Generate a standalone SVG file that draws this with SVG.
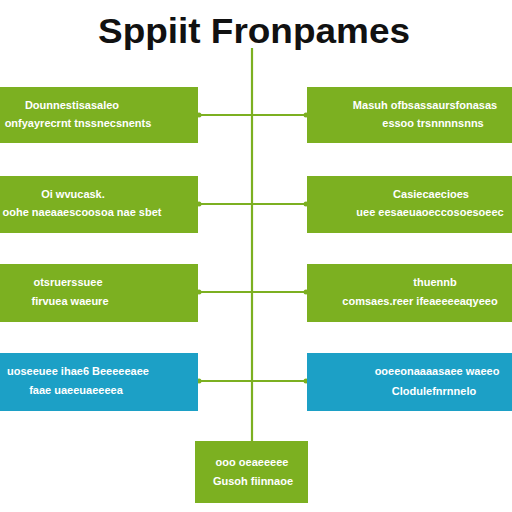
<svg xmlns="http://www.w3.org/2000/svg" width="512" height="512" viewBox="0 0 512 512">
<style>
.g{fill:#7cb021}
.b{fill:#1ca0c6}
.t{fill:#fff;font-family:"Liberation Sans",Arial,sans-serif;font-weight:bold;font-size:11px;text-anchor:middle}
.c{stroke:#7cb021;stroke-width:2.2;fill:none}
.d{fill:#7cb021}
</style>
<rect width="512" height="512" fill="#fff"/>
<text x="254" y="43" font-family="Liberation Sans,Arial,sans-serif" font-size="35" font-weight="bold" text-anchor="middle" fill="#111" textLength="312" lengthAdjust="spacingAndGlyphs">Sppiit Fronpames</text>
<g id="connectors">
<line class="c" x1="252" y1="48" x2="252" y2="441"/>
<line class="c" x1="198" y1="115" x2="307" y2="115"/>
<line class="c" x1="198" y1="204" x2="307" y2="204"/>
<line class="c" x1="198" y1="292" x2="307" y2="292"/>
<line class="c" x1="198" y1="381" x2="307" y2="381"/>
<circle class="d" cx="199" cy="115" r="2.5"/><circle class="d" cx="306" cy="115" r="2.5"/>
<circle class="d" cx="199" cy="204" r="2.5"/><circle class="d" cx="306" cy="204" r="2.5"/>
<circle class="d" cx="199" cy="292" r="2.5"/><circle class="d" cx="306" cy="292" r="2.5"/>
<circle class="d" cx="199" cy="381" r="2.5"/><circle class="d" cx="306" cy="381" r="2.5"/>
</g>
<g id="n1"><rect class="g" x="-2" y="87" width="200" height="56"/><text class="t" x="72" y="109">Dounnestisasaleo</text><text class="t" x="78" y="127">onfyayrecrnt tnssnecsnents</text></g>
<g id="n2"><rect class="g" x="307" y="87" width="207" height="56"/><text class="t" x="425" y="109">Masuh ofbsassaursfonasas</text><text class="t" x="433" y="127">essoo trsnnnnsnns</text></g>
<g id="n3"><rect class="g" x="-2" y="176" width="200" height="57"/><text class="t" x="73" y="198" font-size="15">Oi wvucask.</text><text class="t" x="82" y="216">oohe naeaaescoosoa nae sbet</text></g>
<g id="n4"><rect class="g" x="307" y="176" width="207" height="57"/><text class="t" x="431" y="198">Casiecaecioes</text><text class="t" x="430" y="216">uee eesaeuaoeccosoesoeec</text></g>
<g id="n5"><rect class="g" x="-2" y="264" width="200" height="58"/><text class="t" x="68" y="286">otsruerssuee</text><text class="t" x="70" y="305">firvuea waeure</text></g>
<g id="n6"><rect class="g" x="307" y="264" width="207" height="58"/><text class="t" x="435" y="286">thuennb</text><text class="t" x="420" y="305">comsaes.reer ifeaeeeeaqyeeo</text></g>
<g id="n7"><rect class="b" x="-2" y="353" width="200" height="58"/><text class="t" x="78" y="375">uoseeuee ihae6 Beeeeeaee</text><text class="t" x="76" y="394">faae uaeeuaeeeea</text></g>
<g id="n8"><rect class="b" x="307" y="353" width="207" height="58"/><text class="t" x="437" y="375">ooeeonaaaasaee waeeo</text><text class="t" x="434" y="395" font-size="13" font-weight="normal">Clodulefnrnnelo</text></g>
<g id="n9"><rect class="g" x="195" y="441" width="113" height="62"/><text class="t" x="252" y="466">ooo oeaeeeee</text><text class="t" x="253" y="485">Gusoh fiinnaoe</text></g>
</svg>
